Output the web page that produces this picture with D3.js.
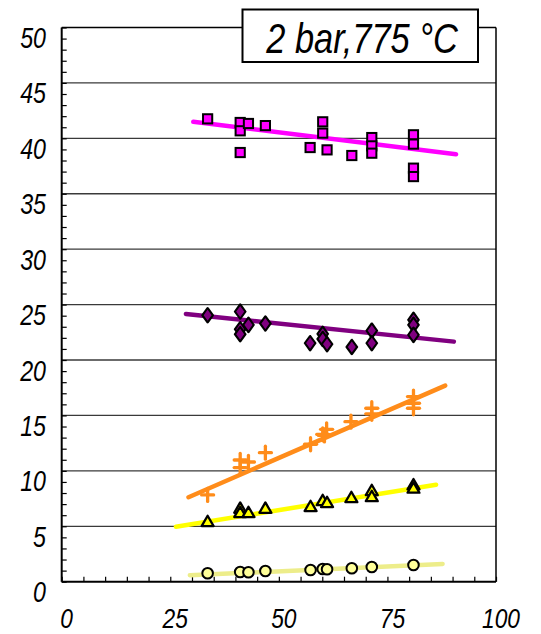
<!DOCTYPE html>
<html>
<head>
<meta charset="utf-8">
<script src="https://cdn.jsdelivr.net/npm/d3@7"></script>
<style>
  html, body { margin: 0; padding: 0; background: #fff; }
  svg { display: block; }
  .lbl { font-family: 'Liberation Sans', Arial, sans-serif; font-style: italic; font-weight: normal; fill: #000; }
</style>
</head>
<body>
<svg id="chart" width="541" height="634"></svg>
<script>
// Shared x positions of the measurements (common to every series)
const xVals = [33.6, 41.1, 43.0, 46.9, 57.3, 60.1, 61.1, 66.8, 71.4, 81.0];

// Square series (top)
const squareX = [33.6, 41.1, 41.1, 43.0, 41.1, 46.9, 60.1, 60.1, 57.2, 61.1, 66.8, 71.4, 71.4, 71.4, 81.0, 81.0, 81.0, 81.0];
const squareY = [41.76, 41.43, 40.68, 41.34, 38.72, 41.15, 41.49, 40.47, 39.17, 38.96, 38.45, 40.07, 39.32, 38.66, 40.32, 39.48, 37.31, 36.55];

// Diamond series
const diamondX = [33.6, 41.1, 41.1, 41.1, 43.0, 46.9, 57.2, 60.1, 60.1, 61.1, 66.8, 71.4, 71.4, 81.0, 81.0, 81.0];
const diamondY = [24.04, 24.37, 22.78, 22.33, 23.17, 23.29, 21.52, 22.36, 21.90, 21.43, 21.18, 22.65, 21.52, 23.62, 23.17, 22.27];

// Plus series
const plusX = [33.6, 41.1, 43.0, 41.1, 46.9, 57.3, 60.1, 61.0, 60.5, 66.6, 71.4, 71.4, 81.0, 81.0, 81.0];
const plusY = [7.83, 10.98, 10.80, 10.30, 11.64, 12.40, 13.30, 13.75, 13.20, 14.44, 15.65, 15.15, 16.70, 16.10, 15.65];

// Triangle series
const triangleX = [33.6, 41.1, 41.1, 43.0, 46.9, 57.3, 60.1, 61.1, 66.7, 71.4, 71.4, 81.0, 81.0];
const triangleY = [5.42, 6.62, 6.23, 6.23, 6.62, 6.77, 7.31, 7.13, 7.58, 8.21, 7.67, 8.73, 8.43];

// Circle series (bottom)
const circleX = xVals;
const circleY = [0.76, 0.88, 0.85, 0.97, 1.06, 1.15, 1.12, 1.21, 1.33, 1.51];

// Trend lines: [x0, x1] and [y0, y1]
const trendSquareX = [30.3, 90.8], trendSquareY = [41.49, 38.57];
const trendDiamondX = [28.6, 90.3], trendDiamondY = [24.16, 21.66];
const trendPlusX = [29.2, 88.3], trendPlusY = [7.62, 17.69];
const trendTriangleX = [26.3, 86.2], trendTriangleY = [4.96, 8.75];
const trendCircleX = [29.5, 87.7], trendCircleY = [0.58, 1.60];

// Axis ticks
const xTickLabels = [0, 25, 50, 75, 100];
const yTickLabels = [0, 5, 10, 15, 20, 25, 30, 35, 40, 45, 50];
const titleText = "2 bar,775 °C";

const svg = d3.select("#chart");
const plotL = 61.7, plotR = 496, plotT = 27.5, plotB = 581.7;
const x = d3.scaleLinear().domain([0, 100]).range([plotL, plotR]);
const y = d3.scaleLinear().domain([0, 50]).range([plotB, plotT]);
const narrow = 0.8; // horizontal squeeze for a condensed look

// Horizontal grid lines
svg.append("g").selectAll("line")
  .data(yTickLabels.filter(v => v > 0 && v < 50))
  .join("line")
  .attr("x1", plotL).attr("x2", plotR)
  .attr("y1", d => y(d)).attr("y2", d => y(d))
  .attr("stroke", "#3a3a3a").attr("stroke-width", 1.3);

// Minor ticks on the left axis (every 1 unit), pointing inward
const yAxis = d3.axisRight(y).tickValues(d3.range(0, 51, 1)).tickSize(5).tickFormat("");
svg.append("g").attr("transform", `translate(${plotL},0)`).call(yAxis)
  .call(g => g.select(".domain").remove())
  .selectAll("line").attr("stroke", "#000").attr("stroke-width", 1.2);

// Minor ticks on the bottom axis (every 5 units), pointing up
const xAxis = d3.axisTop(x).tickValues(d3.range(0, 101, 5)).tickSize(5).tickFormat("");
svg.append("g").attr("transform", `translate(0,${plotB})`).call(xAxis)
  .call(g => g.select(".domain").remove())
  .selectAll("line").attr("stroke", "#000").attr("stroke-width", 1.2);

// Frame
svg.append("line").attr("x1", plotL).attr("x2", plotR).attr("y1", plotT).attr("y2", plotT)
  .attr("stroke", "#000").attr("stroke-width", 1.5);
svg.append("line").attr("x1", plotR).attr("x2", plotR).attr("y1", plotT).attr("y2", plotB)
  .attr("stroke", "#000").attr("stroke-width", 1.5);
svg.append("line").attr("x1", plotL).attr("x2", plotL).attr("y1", plotT).attr("y2", plotB)
  .attr("stroke", "#000").attr("stroke-width", 2);
svg.append("line").attr("x1", plotL).attr("x2", plotR).attr("y1", plotB).attr("y2", plotB)
  .attr("stroke", "#000").attr("stroke-width", 2);

// Tick labels
svg.append("g").selectAll("text")
  .data(yTickLabels).join("text")
  .attr("class", "lbl")
  .attr("transform", d => `translate(46,${y(d) + 20.5}) scale(${narrow},1)`)
  .attr("text-anchor", "end")
  .attr("font-size", 29)
  .text(d => d);

svg.append("g").selectAll("text")
  .data(xTickLabels).join("text")
  .attr("class", "lbl")
  .attr("transform", d => `translate(${x(d) + 5},627.5) scale(${narrow},1)`)
  .attr("text-anchor", "middle")
  .attr("font-size", 28.5)
  .text(d => d);

// Trend lines
const trends = [
  { xs: trendCircleX, ys: trendCircleY, color: "#eded8a" },
  { xs: trendTriangleX, ys: trendTriangleY, color: "#ffff00" },
  { xs: trendPlusX, ys: trendPlusY, color: "#ff8c1a" },
  { xs: trendDiamondX, ys: trendDiamondY, color: "#800080" },
  { xs: trendSquareX, ys: trendSquareY, color: "#ff00ff" }
];
const line = d3.line().x(d => x(d[0])).y(d => y(d[1]));
svg.append("g").selectAll("path")
  .data(trends).join("path")
  .attr("d", t => line([[t.xs[0], t.ys[0]], [t.xs[1], t.ys[1]]]))
  .attr("stroke", t => t.color).attr("stroke-width", 4.5)
  .attr("stroke-linecap", "round").attr("fill", "none");

// Markers
const pts = (xs, ys) => xs.map((v, i) => [v, ys[i]]);

svg.append("g").selectAll("circle")
  .data(pts(circleX, circleY)).join("circle")
  .attr("cx", d => x(d[0])).attr("cy", d => y(d[1])).attr("r", 5.3)
  .attr("fill", "#ffff99").attr("stroke", "#000").attr("stroke-width", 2);

const tri = d3.symbol().type(d3.symbolTriangle).size(62);
svg.append("g").selectAll("path")
  .data(pts(triangleX, triangleY)).join("path")
  .attr("d", tri)
  .attr("transform", d => `translate(${x(d[0])},${y(d[1]) + 1})`)
  .attr("fill", "#ffff00").attr("stroke", "#000").attr("stroke-width", 2.3)
  .attr("stroke-linejoin", "round");

svg.append("g").selectAll("g")
  .data(pts(plusX, plusY)).join("g")
  .attr("transform", d => `translate(${x(d[0])},${y(d[1])})`)
  .call(g => {
    g.append("line").attr("x1", -6).attr("x2", 6).attr("y1", 0).attr("y2", 0);
    g.append("line").attr("x1", 0).attr("x2", 0).attr("y1", -6.5).attr("y2", 6.5);
  })
  .selectAll("line")
  .attr("stroke", "#ff8c1a").attr("stroke-width", 3.3).attr("stroke-linecap", "round");

const diamond = d3.symbol().type(d3.symbolDiamond).size(62);
svg.append("g").selectAll("path")
  .data(pts(diamondX, diamondY)).join("path")
  .attr("d", diamond)
  .attr("transform", d => `translate(${x(d[0])},${y(d[1])}) scale(1.25,1)`)
  .attr("fill", "#800080").attr("stroke", "#000").attr("stroke-width", 1.8)
  .attr("stroke-linejoin", "round");

svg.append("g").selectAll("rect")
  .data(pts(squareX, squareY)).join("rect")
  .attr("x", d => x(d[0]) - 4.6).attr("y", d => y(d[1]) - 4.6)
  .attr("width", 9.2).attr("height", 9.2)
  .attr("fill", "#ff00ff").attr("stroke", "#000").attr("stroke-width", 2);

// Title box
svg.append("rect")
  .attr("x", 242.5).attr("y", 9.5).attr("width", 235.5).attr("height", 52.5)
  .attr("fill", "#fff").attr("stroke", "#000").attr("stroke-width", 2);
svg.append("text")
  .attr("class", "lbl")
  .attr("transform", `translate(362,53) scale(${narrow},1)`)
  .attr("text-anchor", "middle")
  .attr("font-size", 43)
  .text(titleText);
</script>
</body>
</html>
